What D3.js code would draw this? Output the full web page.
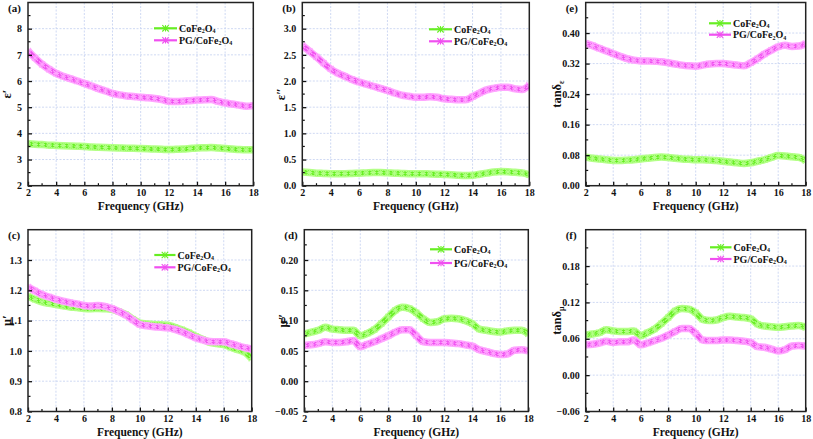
<!DOCTYPE html>
<html><head><meta charset="utf-8">
<script src="https://cdn.jsdelivr.net/npm/d3@7"></script>
<style>
body{margin:0;background:#fff;}
svg text{font-family:"Liberation Serif","Times New Roman",serif;font-weight:bold;fill:#111;}
</style></head>
<body><svg id="c" width="813" height="439"></svg>
<script>
const freq = [2,2.5,3,3.5,4,4.5,5,5.5,6,6.5,7,7.5,8,8.5,9,9.5,10,10.5,11,11.5,12,12.5,13,13.5,14,14.5,15,15.5,16,16.5,17,17.5,18];
const xTicks = [2,4,6,8,10,12,14,16,18];
const seriesNames = ["CoFe2O4","PG/CoFe2O4"];

const epsRealCo = [3.60,3.58,3.57,3.55,3.54,3.53,3.52,3.51,3.50,3.48,3.47,3.46,3.45,3.44,3.43,3.43,3.42,3.41,3.40,3.39,3.38,3.39,3.40,3.42,3.44,3.45,3.46,3.44,3.42,3.40,3.38,3.37,3.37];
const epsRealPG = [7.15,6.88,6.64,6.45,6.29,6.18,6.09,6.00,5.91,5.81,5.71,5.62,5.53,5.47,5.43,5.41,5.38,5.36,5.33,5.29,5.23,5.22,5.23,5.25,5.27,5.28,5.29,5.22,5.16,5.12,5.08,5.04,5.06];
const epsImagCo = [0.26,0.25,0.24,0.235,0.23,0.23,0.23,0.235,0.24,0.245,0.25,0.25,0.245,0.24,0.235,0.23,0.23,0.23,0.225,0.22,0.215,0.21,0.20,0.195,0.20,0.22,0.24,0.26,0.27,0.265,0.255,0.245,0.21];
const epsImagPG = [2.68,2.57,2.46,2.34,2.23,2.15,2.09,2.03,1.98,1.94,1.90,1.86,1.82,1.77,1.73,1.71,1.69,1.69,1.70,1.69,1.66,1.65,1.64,1.64,1.70,1.77,1.83,1.86,1.88,1.88,1.85,1.84,1.92];
const tanECo = [0.075,0.072,0.070,0.068,0.066,0.066,0.067,0.068,0.070,0.072,0.074,0.075,0.074,0.072,0.070,0.069,0.068,0.068,0.067,0.066,0.064,0.062,0.060,0.058,0.060,0.064,0.068,0.074,0.079,0.078,0.076,0.074,0.066];
const tanEPG = [0.373,0.367,0.360,0.353,0.346,0.339,0.333,0.329,0.327,0.327,0.326,0.325,0.322,0.319,0.316,0.314,0.313,0.316,0.319,0.320,0.320,0.318,0.316,0.314,0.322,0.333,0.345,0.355,0.364,0.368,0.365,0.366,0.372];
const muRealCo = [1.181,1.170,1.162,1.157,1.153,1.149,1.145,1.143,1.140,1.139,1.140,1.139,1.137,1.130,1.120,1.105,1.092,1.089,1.087,1.086,1.085,1.078,1.070,1.060,1.048,1.038,1.028,1.024,1.021,1.012,1.004,0.996,0.975];
const muRealPG = [1.211,1.198,1.186,1.178,1.170,1.164,1.159,1.155,1.150,1.148,1.150,1.147,1.140,1.130,1.118,1.102,1.087,1.083,1.080,1.078,1.076,1.071,1.063,1.053,1.043,1.036,1.031,1.030,1.030,1.024,1.017,1.011,1.006];
const muImagCo = [0.078,0.081,0.084,0.089,0.086,0.085,0.084,0.084,0.075,0.079,0.085,0.095,0.106,0.117,0.122,0.120,0.113,0.103,0.097,0.098,0.103,0.104,0.103,0.100,0.095,0.086,0.084,0.082,0.081,0.083,0.084,0.084,0.078];
const muImagPG = [0.059,0.060,0.062,0.065,0.064,0.064,0.065,0.067,0.057,0.061,0.065,0.070,0.075,0.081,0.085,0.085,0.075,0.065,0.064,0.064,0.064,0.063,0.062,0.060,0.058,0.052,0.049,0.046,0.044,0.045,0.051,0.052,0.050];
const tanMCo = [0.066,0.068,0.070,0.075,0.073,0.072,0.072,0.073,0.065,0.070,0.076,0.085,0.095,0.106,0.110,0.109,0.103,0.092,0.090,0.091,0.095,0.097,0.096,0.095,0.093,0.084,0.081,0.080,0.079,0.080,0.081,0.082,0.079];
const tanMPG = [0.050,0.051,0.053,0.056,0.054,0.055,0.055,0.058,0.050,0.053,0.057,0.061,0.066,0.072,0.077,0.077,0.069,0.058,0.057,0.057,0.058,0.058,0.057,0.056,0.054,0.047,0.046,0.043,0.040,0.042,0.048,0.049,0.048];

const yTicksA = [2,3,4,5,6,7,8];
const yTicksB = [0,0.5,1.0,1.5,2.0,2.5,3.0];
const yTicksE = [0,0.08,0.16,0.24,0.32,0.40];
const yTicksC = [0.8,0.9,1.0,1.1,1.2,1.3];
const yTicksD = [-0.05,0,0.05,0.10,0.15,0.20];
const yTicksF = [-0.06,0,0.06,0.12,0.18];

const GREEN = "#66ee22", GREEN_L = "#b4ff88";
const PINK = "#f050f0", PINK_L = "#ffa6ff";

const panels = [
 {id:"(a)", co:epsRealCo, pg:epsRealPG, dom:[2,9], ticks:yTicksA, fmt:d3.format("d"), minor:0.5,
  box:[28,253.3,2.5,185.7], ylab:["ε′",""], leg:[154,177,28.3,40.3]},
 {id:"(b)", co:epsImagCo, pg:epsImagPG, dom:[0,3.5], ticks:yTicksB, fmt:d3.format(".1f"), minor:0.25,
  box:[302.3,529.3,2.5,185.7], ylab:["ε″",""], leg:[429,452,29.3,41.3]},
 {id:"(e)", co:tanECo, pg:tanEPG, dom:[0,0.48], ticks:yTicksE, fmt:d3.format(".2f"), minor:0.04,
  box:[585.7,805.7,2.5,185.7], ylab:["tanδ","ε"], leg:[709,731,23.3,34.7]},
 {id:"(c)", co:muRealCo, pg:muRealPG, dom:[0.8,1.4], ticks:yTicksC, fmt:d3.format(".1f"), minor:0.05,
  box:[28,251.7,229.7,411.5], ylab:["μ′",""], leg:[154.3,175.5,255,267.3]},
 {id:"(d)", co:muImagCo, pg:muImagPG, dom:[-0.05,0.25], ticks:yTicksD, fmt:d3.format(".2f"), minor:0.025,
  box:[304.3,528.3,229.7,411.5], ylab:["μ″",""], leg:[430,452,249.3,263]},
 {id:"(f)", co:tanMCo, pg:tanMPG, dom:[-0.06,0.24], ticks:yTicksF, fmt:d3.format(".2f"), minor:0.03,
  box:[585.7,805.7,229.7,411.5], ylab:["tanδ","μ"], leg:[710,731.5,247.3,259]}
];

const svg = d3.select("#c");

function star(g, x, y, r, color){
  const s = g.append("g").attr("transform",`translate(${x},${y})`).attr("stroke",color).attr("stroke-width",1.1);
  [[-r,-r,r,r],[-r,r,r,-r],[-r,0,r,0],[0,-r,0,r]].forEach(l=>{
    s.append("line").attr("x1",l[0]).attr("y1",l[1]).attr("x2",l[2]).attr("y2",l[3]);
  });
}

panels.forEach(p=>{
  const [x0,x1,y0,y1] = p.box;
  const x = d3.scaleLinear().domain([2,18]).range([x0,x1]);
  const y = d3.scaleLinear().domain(p.dom).range([y1,y0]);
  const g = svg.append("g");

  // grid
  const grid = g.append("g").attr("stroke","#c9d5f2").attr("stroke-width",0.9).attr("stroke-dasharray","2,1.5");
  xTicks.slice(1,-1).forEach(t=>grid.append("line").attr("x1",x(t)).attr("x2",x(t)).attr("y1",y0).attr("y2",y1));
  p.ticks.slice(1).forEach(t=>grid.append("line").attr("y1",y(t)).attr("y2",y(t)).attr("x1",x0).attr("x2",x1));

  // series
  const line = d3.line().x((d,i)=>x(freq[i])).y(d=>y(d)).curve(d3.curveMonotoneX);
  const clip = "clip"+p.id.replace(/[()]/g,"");
  svg.append("clipPath").attr("id",clip).append("rect").attr("x",x0).attr("y",y0).attr("width",x1-x0).attr("height",y1-y0);
  const sg = g.append("g").attr("clip-path",`url(#${clip})`);
  [[p.co,GREEN,GREEN_L],[p.pg,PINK,PINK_L]].forEach(([vals,c,cl])=>{
    sg.append("path").datum(vals).attr("d",line).attr("fill","none").attr("stroke",cl).attr("stroke-width",7.5).attr("stroke-linejoin","round");
    sg.append("path").datum(vals).attr("d",line).attr("fill","none").attr("stroke",c).attr("stroke-width",4.5).attr("stroke-linejoin","round");
    vals.forEach((v,i)=>star(sg, x(freq[i]), y(v), 3, cl));
  });

  // axes (inward ticks)
  const xAxis = d3.axisBottom(x).tickValues(xTicks).tickSize(-4).tickPadding(3).tickFormat(d3.format("d"));
  const xa = g.append("g").attr("transform",`translate(0,${y1})`).call(xAxis);
  const yAxis = d3.axisLeft(y).tickValues(p.ticks).tickSize(-4).tickPadding(6).tickFormat(p.fmt);
  const ya = g.append("g").attr("transform",`translate(${x0},0)`).call(yAxis);
  [xa,ya].forEach(a=>{
    a.select(".domain").remove();
    a.selectAll("line").attr("stroke","#111").attr("stroke-width",1.3);
    a.selectAll("text").attr("font-size",10).attr("font-family","Liberation Serif").attr("font-weight","bold").attr("fill","#111");
  });
  // minor ticks
  const mg = g.append("g").attr("stroke","#111").attr("stroke-width",1.2);
  d3.range(3,18,2).forEach(t=>mg.append("line").attr("x1",x(t)).attr("x2",x(t)).attr("y1",y1).attr("y2",y1-2.5));
  p.ticks.forEach(t=>{
    const m = t + p.minor;
    if (m < p.dom[1]) mg.append("line").attr("x1",x0).attr("x2",x0+2.5).attr("y1",y(m)).attr("y2",y(m));
  });

  // frame
  g.append("rect").attr("x",x0).attr("y",y0).attr("width",x1-x0).attr("height",y1-y0)
   .attr("fill","none").attr("stroke","#222").attr("stroke-width",1.5);

  // axis title
  g.append("text").attr("x",(x0+x1)/2).attr("y",y1+24.5).attr("text-anchor","middle").attr("font-size",11.5).text("Frequency (GHz)");
  // y label
  const yl = g.append("text").attr("transform",`translate(${x0 - (p.ylab[1]? 25:17)},${(y0+y1)/2}) rotate(-90)`)
    .attr("text-anchor","middle").attr("font-size",12.5);
  yl.append("tspan").text(p.ylab[0]);
  if (p.ylab[1]) yl.append("tspan").attr("font-size",8).attr("dy",3).text(p.ylab[1]);

  // panel letter
  g.append("text").attr("x",x0-20).attr("y",y0+9).attr("font-size",11).text(p.id);

  // legend
  const [lx0,lx1,ly0,ly1] = p.leg;
  [[GREEN,ly0,0],[PINK,ly1,1]].forEach(([c,ly,k])=>{
    g.append("line").attr("x1",lx0).attr("x2",lx1).attr("y1",ly).attr("y2",ly).attr("stroke",c).attr("stroke-width",2.2);
    star(g,(lx0+lx1)/2,ly,3.2,c);
    const t = g.append("text").attr("x",lx1+2).attr("y",ly+3.5).attr("font-size",10);
    if (k===1) t.append("tspan").text("PG/");
    t.append("tspan").text("CoFe");
    t.append("tspan").attr("font-size",6).attr("dy",1.5).text("2");
    t.append("tspan").attr("dy",-1.5).text("O");
    t.append("tspan").attr("font-size",6).attr("dy",1.5).text("4");
  });
});
</script></body></html>
